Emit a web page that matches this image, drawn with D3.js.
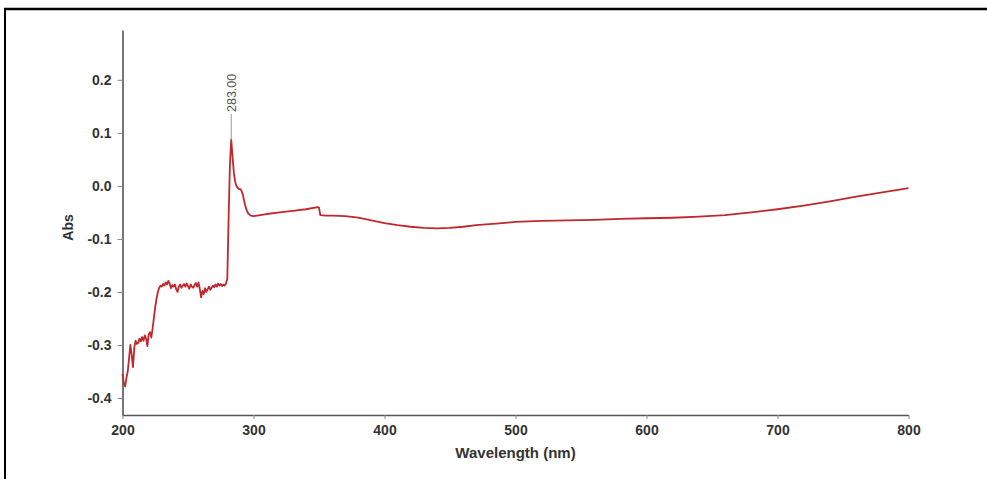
<!DOCTYPE html>
<html>
<head>
<meta charset="utf-8">
<script src="https://cdn.jsdelivr.net/npm/d3@7"></script>
<style>
  html, body { margin: 0; padding: 0; background: #fff; }
  svg { display: block; }
</style>
</head>
<body>
<script>
// ---- data ----
const wavelength = [
  200,201,202,203,204,205,206,207,208,209,
  210,211,212,213,214,215,216,217,218,219,
  220,221,222,223,224,225,226,227,228,229,
  230,231,232,233,234,235,236,237,238,239,
  240,241,242,243,244,245,246,247,248,249,
  250,251,252,253,254,255,256,257,258,259,
  260,261,262,263,264,265,266,267,268,269,
  270,271,272,273,274,275,276,277,278,279,
  280,281,282,283,284,285,286,287,288,289,
  290,291,292,293,294,295,296,298,300,305,
  310,320,330,340,349,350,351,355,360,370,
  380,390,400,410,420,430,440,450,460,470,
  480,490,500,520,540,560,580,600,620,640,
  660,680,700,720,740,760,780,800
];
const absorbance = [
  -0.355,-0.372,-0.378,-0.362,-0.350,-0.325,-0.300,-0.318,-0.342,-0.305,
  -0.292,-0.298,-0.296,-0.288,-0.293,-0.285,-0.292,-0.282,-0.288,-0.302,
  -0.280,-0.276,-0.286,-0.268,-0.248,-0.228,-0.212,-0.200,-0.192,-0.188,
  -0.190,-0.185,-0.188,-0.182,-0.186,-0.179,-0.184,-0.193,-0.187,-0.190,
  -0.186,-0.195,-0.200,-0.190,-0.186,-0.192,-0.188,-0.185,-0.190,-0.184,
  -0.189,-0.194,-0.186,-0.190,-0.192,-0.187,-0.183,-0.190,-0.182,-0.194,
  -0.210,-0.198,-0.204,-0.193,-0.200,-0.195,-0.190,-0.196,-0.192,-0.188,
  -0.191,-0.186,-0.190,-0.184,-0.188,-0.185,-0.189,-0.186,-0.188,-0.184,
  -0.175,-0.060,0.040,0.087,0.055,0.025,0.008,0.000,-0.004,-0.006,
  -0.006,-0.010,-0.018,-0.030,-0.040,-0.047,-0.052,-0.056,-0.057,-0.055,
  -0.053,-0.050,-0.047,-0.044,-0.040,-0.041,-0.055,-0.056,-0.056,-0.057,
  -0.060,-0.065,-0.070,-0.074,-0.077,-0.079,-0.080,-0.079,-0.077,-0.074,
  -0.072,-0.070,-0.068,-0.066,-0.065,-0.064,-0.062,-0.061,-0.060,-0.058,
  -0.055,-0.050,-0.044,-0.037,-0.029,-0.020,-0.012,-0.004
];
const xTicks = [200, 300, 400, 500, 600, 700, 800];
const yTicks = [-0.4, -0.3, -0.2, -0.1, 0.0, 0.1, 0.2];
const peakLabel = { wl: 283, abs: 0.087, text: "283.00" };
const xTitle = "Wavelength (nm)";
const yTitle = "Abs";

// ---- drawing ----
const W = 987, H = 479;
const svg = d3.select("body").append("svg").attr("width", W).attr("height", H);

// frame lines (top + left)
svg.append("line").attr("x1", 4).attr("x2", W).attr("y1", 9).attr("y2", 9)
  .attr("stroke", "#000").attr("stroke-width", 2.5);
svg.append("line").attr("x1", 5).attr("x2", 5).attr("y1", 8).attr("y2", H)
  .attr("stroke", "#000").attr("stroke-width", 2);

const x = d3.scaleLinear().domain([200, 800]).range([122.5, 908.5]);
const y = d3.scaleLinear().domain([-0.432, 0.294]).range([415, 30]);

const font = "'Liberation Sans', Arial, Helvetica, sans-serif";

// x axis
const gx = svg.append("g").attr("transform", `translate(0,${y.range()[0]})`)
  .call(d3.axisBottom(x).tickValues(xTicks).tickFormat(d3.format("d")).tickSizeInner(4).tickSizeOuter(0).tickPadding(6));
// y axis
const gy = svg.append("g").attr("transform", `translate(${x.range()[0]},0)`)
  .call(d3.axisLeft(y).tickValues(yTicks).tickFormat(d => d.toFixed(1)).tickSizeInner(5).tickSizeOuter(0).tickPadding(6));

[gx, gy].forEach(g => {
  g.select(".domain").attr("stroke", "#555").attr("stroke-width", 1.6);
  g.selectAll(".tick line").attr("stroke", "#888").attr("stroke-width", 1);
  g.selectAll(".tick text").attr("fill", "#333").style("font-family", font)
    .style("font-size", "14px").style("font-weight", "bold");
});

// axis titles
svg.append("text").attr("x", (x.range()[0] + x.range()[1]) / 2).attr("y", 458)
  .attr("text-anchor", "middle").attr("fill", "#333")
  .style("font-family", font).style("font-size", "15px").style("font-weight", "bold")
  .text(xTitle);
svg.append("text").attr("transform", `translate(73,${(y.range()[0] + y.range()[1]) / 2 + 5}) rotate(-90)`)
  .attr("text-anchor", "middle").attr("fill", "#333")
  .style("font-family", font).style("font-size", "14px").style("font-weight", "bold")
  .text(yTitle);

// spectrum line
const pts = wavelength.map((w, i) => [w, absorbance[i]]);
svg.append("path").datum(pts)
  .attr("fill", "none").attr("stroke", "#c0282d").attr("stroke-width", 1.8)
  .attr("stroke-linejoin", "round")
  .attr("d", d3.line().x(d => x(d[0])).y(d => y(d[1])));

// peak annotation
const px = x(peakLabel.wl), py = y(peakLabel.abs);
svg.append("line").attr("x1", px).attr("x2", px).attr("y1", py).attr("y2", 114)
  .attr("stroke", "#999").attr("stroke-width", 1);
svg.append("text").attr("transform", `translate(${px + 4.5},112) rotate(-90)`)
  .attr("text-anchor", "start").attr("fill", "#555")
  .style("font-family", font).style("font-size", "12.5px")
  .text(peakLabel.text);
</script>
</body>
</html>
